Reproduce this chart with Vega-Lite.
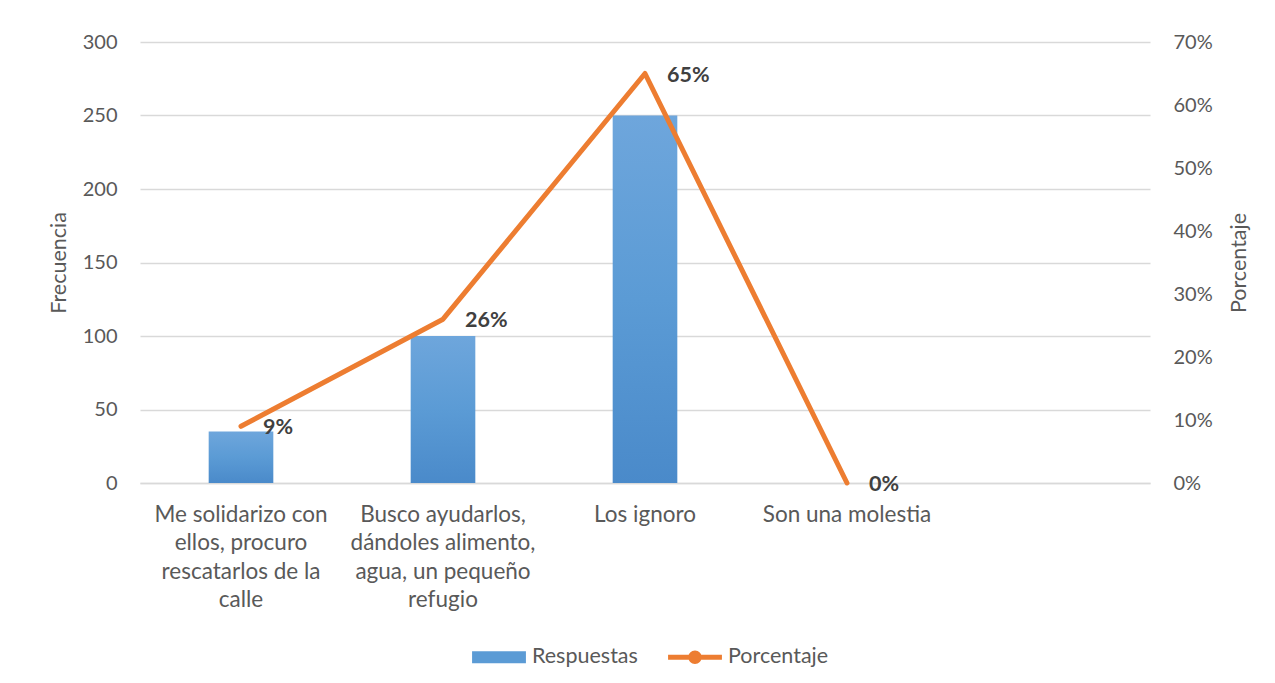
{
  "$schema": "https://vega.github.io/schema/vega-lite/v6.json",
  "width": 1010,
  "height": 441,
  "autosize": {"type": "none"},
  "padding": {"left": 140, "top": 42, "right": 125, "bottom": 200},
  "background": "white",
  "config": {
    "font": "Lato",
    "view": {"stroke": null},
    "axis": {
      "labelFont": "Lato",
      "titleFont": "Lato",
      "labelFontSize": 20,
      "titleFontSize": 21.5,
      "labelColor": "#595959",
      "titleColor": "#595959",
      "titleFontWeight": "normal",
      "ticks": false
    }
  },
  "data": {
    "values": [
      {"categoria": "Me solidarizo con\nellos, procuro\nrescatarlos de la\ncalle", "Respuestas": 35, "Porcentaje": 0.09},
      {"categoria": "Busco ayudarlos,\ndándoles alimento,\nagua, un pequeño\nrefugio", "Respuestas": 100, "Porcentaje": 0.26},
      {"categoria": "Los ignoro", "Respuestas": 250, "Porcentaje": 0.65},
      {"categoria": "Son una molestia", "Respuestas": 0, "Porcentaje": 0}
    ]
  },
  "encoding": {
    "x": {
      "field": "categoria",
      "type": "nominal",
      "sort": null,
      "scale": {
        "domain": [
          "Me solidarizo con\nellos, procuro\nrescatarlos de la\ncalle",
          "Busco ayudarlos,\ndándoles alimento,\nagua, un pequeño\nrefugio",
          "Los ignoro",
          "Son una molestia",
          " "
        ],
        "paddingInner": 0,
        "paddingOuter": 0
      },
      "axis": {
        "title": null,
        "labelAngle": 0,
        "labelExpr": "split(datum.value, '\\n')",
        "labelFontSize": 22.5,
        "labelLineHeight": 28.5,
        "labelPadding": 20,
        "labelOverlap": false,
        "labelLimit": 0,
        "domain": true,
        "domainColor": "#D9D9D9",
        "domainWidth": 1.5
      }
    }
  },
  "layer": [
    {
      "mark": {
        "type": "bar",
        "width": {"band": 0.32},
        "color": {
          "gradient": "linear",
          "x1": 0, "y1": 0, "x2": 0, "y2": 1,
          "stops": [
            {"offset": 0, "color": "#6EA6DC"},
            {"offset": 0.5, "color": "#5B9BD5"},
            {"offset": 1, "color": "#4A8ACA"}
          ]
        }
      },
      "encoding": {
        "y": {
          "field": "Respuestas",
          "type": "quantitative",
          "scale": {"domain": [0, 300], "nice": false},
          "axis": {
            "title": "Frecuencia",
            "values": [0, 50, 100, 150, 200, 250, 300],
            "grid": true,
            "gridColor": "#D9D9D9",
            "gridWidth": 1.5,
            "domain": false,
            "labelPadding": 23,
            "titlePadding": 12
          }
        }
      }
    },
    {
      "layer": [
        {
          "mark": {"type": "line", "strokeWidth": 5, "strokeJoin": "round", "strokeCap": "round"},
          "encoding": {
            "y": {
              "field": "Porcentaje",
              "type": "quantitative",
              "scale": {"domain": [0, 0.7], "nice": false},
              "axis": {
                "orient": "right",
                "title": "Porcentaje",
                "titleAngle": 270,
                "values": [0, 0.1, 0.2, 0.3, 0.4, 0.5, 0.6, 0.7],
                "format": ".0%",
                "grid": false,
                "domain": false,
                "labelPadding": 23,
                "titlePadding": 38
              }
            },
            "color": {
              "datum": "Porcentaje",
              "type": "nominal",
              "scale": {"domain": ["Respuestas", "Porcentaje"], "range": ["#5B9BD5", "#ED7D31"]},
              "legend": {
                "title": null,
                "orient": "none",
                "direction": "horizontal",
                "legendX": 332,
                "legendY": 588,
                "labelFont": "Lato",
                "labelFontSize": 21.5,
                "labelColor": "#595959",
                "labelOffset": 6,
                "columnPadding": 30,
                "symbolSize": 2900,
                "encode": {
                  "symbols": {
                    "update": {
                      "shape": {"signal": "datum.value === 'Respuestas' ? 'M-1,-0.22H1V0.22H-1Z' : 'M-1,-0.09H1V0.09H-1Z M0.25,0A0.25,0.25 0 1,1 -0.25,0A0.25,0.25 0 1,1 0.25,0Z'"},
                      "fill": {"signal": "datum.value === 'Respuestas' ? '#5B9BD5' : '#ED7D31'"},
                      "stroke": {"value": "transparent"},
                      "strokeWidth": {"value": 0},
                      "opacity": {"value": 1},
                      "fillOpacity": {"value": 1}
                    }
                  }
                }
              }
            }
          }
        },
        {
          "mark": {
            "type": "text",
            "align": "left",
            "baseline": "middle",
            "dx": 22,
            "dy": 2,
            "font": "Lato",
            "fontSize": 21.5,
            "fontWeight": "bold",
            "color": "#404040"
          },
          "encoding": {
            "y": {"field": "Porcentaje", "type": "quantitative"},
            "text": {"field": "Porcentaje", "type": "quantitative", "format": ".0%"}
          }
        }
      ]
    }
  ],
  "resolve": {"scale": {"y": "independent"}}
}
